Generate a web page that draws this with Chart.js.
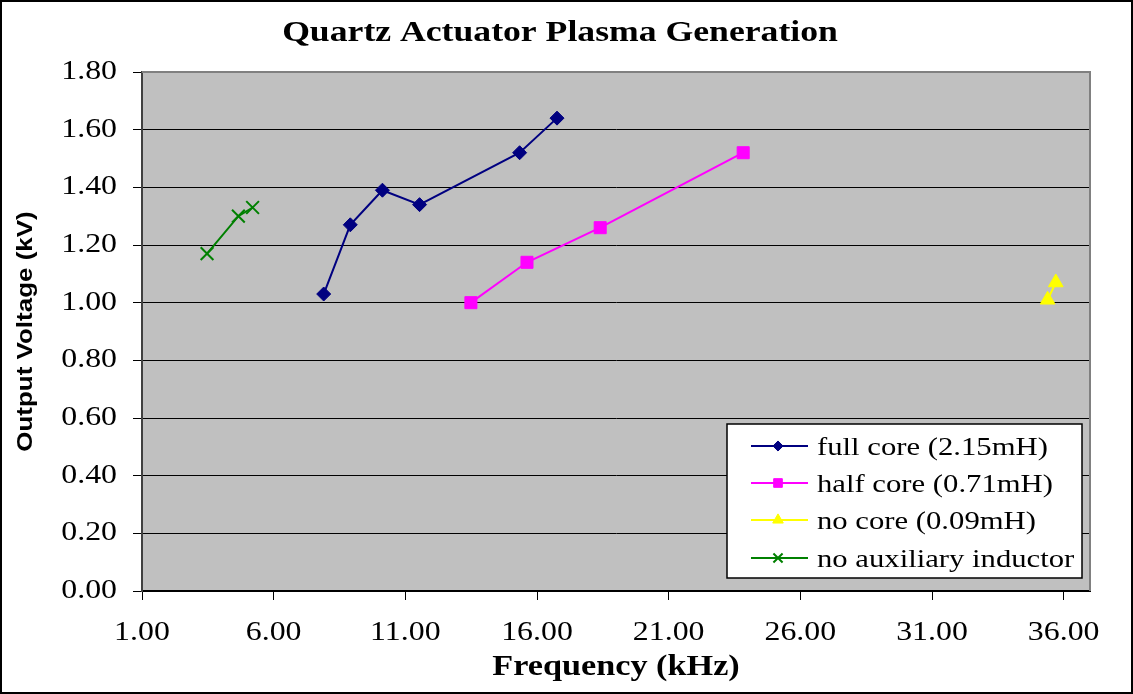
<!DOCTYPE html>
<html>
<head>
<meta charset="utf-8">
<script src="https://cdn.jsdelivr.net/npm/chart.js@4/dist/chart.umd.min.js"></script>
<style>
  html, body { margin: 0; padding: 0; background: #fff; }
  #wrap { width: 1133px; height: 694px; }
</style>
</head>
<body>
<div id="wrap"><canvas id="plasma"></canvas></div>
<script>
// values
const fullCoreFreq = [7.90, 8.91, 10.13, 11.54, 15.34, 16.76];
const fullCoreVolt = [1.03, 1.27, 1.39, 1.34, 1.52, 1.64];
const halfCoreFreq = [13.49, 15.62, 18.40, 23.83];
const halfCoreVolt = [1.00, 1.14, 1.26, 1.52];
const noCoreFreq = [35.39, 35.70];
const noCoreVolt = [1.01, 1.07];
const noAuxFreq = [3.47, 4.66, 5.20];
const noAuxVolt = [1.17, 1.30, 1.33];
const xTickValues = [1, 6, 11, 16, 21, 26, 31, 36];

const chartTitle = 'Quartz Actuator Plasma Generation';
const seriesLabels = ["full core (2.15mH)", "half core (0.71mH)", "no core (0.09mH)", "no auxiliary inductor"];

const serif = '"Liberation Serif", "Times New Roman", serif';
const toPoints = (xs, ys) => xs.map((x, i) => ({ x: x, y: ys[i] }));

const ctx = document.getElementById('plasma').getContext('2d');

// the old Excel picture has its text stretched sideways, so widen every glyph a bit
let textStretch = 1.18;
const rawFillText = ctx.fillText;
ctx.fillText = function (text, x, y) {
  this.save();
  this.translate(x, y);
  this.scale(textStretch, 1);
  rawFillText.call(this, text, 0, 0);
  this.restore();
};

const plotBackground = {
  id: 'plotBackground',
  beforeDraw(chart) {
    const { ctx, chartArea: a } = chart;
    ctx.save();
    ctx.fillStyle = '#c0c0c0';
    ctx.fillRect(a.left, a.top, a.right - a.left, a.bottom - a.top);
    ctx.restore();
  },
  afterDraw(chart) {
    const { ctx, chartArea: a } = chart;
    ctx.save();
    ctx.strokeStyle = '#808080';
    ctx.lineWidth = 2;
    ctx.beginPath();
    ctx.moveTo(a.left, a.top);
    ctx.lineTo(a.right, a.top);
    ctx.lineTo(a.right, a.bottom);
    ctx.stroke();
    // outer frame
    ctx.strokeStyle = '#000';
    ctx.lineWidth = 2;
    ctx.strokeRect(1, 1, chart.width - 2, chart.height - 2);
    // title
    ctx.fillStyle = '#000';
    ctx.font = 'bold 29px ' + serif;
    ctx.textAlign = 'center';
    ctx.textBaseline = 'alphabetic';
    const keep = textStretch;
    textStretch = 1.23;
    ctx.fillText(chartTitle, 560, 41);
    textStretch = keep;
    ctx.restore();
  }
};

const boxLegend = {
  id: 'boxLegend',
  afterDatasetsDraw(chart) {
    const { ctx, chartArea: a } = chart;
    const w = 355, h = 154;
    const left = a.right - 8 - w;
    const top = a.bottom - 13 - h;
    ctx.save();
    ctx.fillStyle = '#fff';
    ctx.fillRect(left, top, w, h);
    ctx.strokeStyle = '#000';
    ctx.lineWidth = 1.5;
    ctx.strokeRect(left, top, w, h);
    ctx.font = '26px ' + serif;
    ctx.textAlign = 'left';
    ctx.textBaseline = 'middle';
    const rows = [22, 59, 96, 134];
    chart.data.datasets.forEach((ds, i) => {
      const y = top + rows[i];
      ctx.strokeStyle = ds.borderColor;
      ctx.lineWidth = 2;
      ctx.beginPath();
      ctx.moveTo(left + 24, y);
      ctx.lineTo(left + 81, y);
      ctx.stroke();
      ctx.fillStyle = ds.pointBackgroundColor;
      ctx.strokeStyle = ds.pointBorderColor;
      ctx.lineWidth = ds.pointBorderWidth;
      Chart.helpers.drawPoint(ctx, {
        pointStyle: ds.pointStyle,
        radius: ds.pointRadius * 0.72,
        borderWidth: ds.pointBorderWidth
      }, left + 51, y);
      ctx.fillStyle = '#000';
      ctx.fillText(ds.label, left + 90, y + 2);
    });
    ctx.restore();
  }
};

new Chart(ctx, {
  type: 'scatter',
  data: {
    datasets: [
      {
        label: seriesLabels[0],
        data: toPoints(fullCoreFreq, fullCoreVolt),
        showLine: true,
        borderColor: '#000080',
        borderWidth: 2,
        pointStyle: 'rectRot',
        pointRadius: 7,
        pointBackgroundColor: '#000080',
        pointBorderColor: '#000080',
        pointBorderWidth: 1
      },
      {
        label: seriesLabels[1],
        data: toPoints(halfCoreFreq, halfCoreVolt),
        showLine: true,
        borderColor: '#ff00ff',
        borderWidth: 2,
        pointStyle: 'rect',
        pointRadius: 8.5,
        pointBackgroundColor: '#ff00ff',
        pointBorderColor: '#ff00ff',
        pointBorderWidth: 1
      },
      {
        label: seriesLabels[2],
        data: toPoints(noCoreFreq, noCoreVolt),
        showLine: true,
        borderColor: '#ffff00',
        borderWidth: 2,
        pointStyle: 'triangle',
        pointRadius: 8.5,
        pointBackgroundColor: '#ffff00',
        pointBorderColor: '#ffff00',
        pointBorderWidth: 1
      },
      {
        label: seriesLabels[3],
        data: toPoints(noAuxFreq, noAuxVolt),
        showLine: true,
        borderColor: '#008000',
        borderWidth: 2,
        pointStyle: 'crossRot',
        pointRadius: 9,
        pointBackgroundColor: '#008000',
        pointBorderColor: '#008000',
        pointBorderWidth: 2
      }
    ]
  },
  options: {
    responsive: true,
    maintainAspectRatio: false,
    animation: false,
    layout: {
      padding: { left: 0, right: 43, top: 72, bottom: 0 }
    },
    plugins: {
      legend: { display: false },
      tooltip: { enabled: false },
      title: { display: false }
    },
    scales: {
      x: {
        type: 'linear',
        min: 1,
        max: 37,
        afterBuildTicks(scale) {
          scale.ticks = xTickValues.map(v => ({ value: v }));
        },
        afterFit(scale) {
          scale.height = 103;
        },
        grid: {
          drawOnChartArea: false,
          drawTicks: true,
          tickLength: 9,
          tickColor: '#000',
          tickWidth: 1
        },
        border: { color: '#000', width: 2 },
        ticks: {
          color: '#000',
          padding: 17,
          maxRotation: 0,
          autoSkip: false,
          font: { family: serif, size: 27 },
          callback: v => Number(v).toFixed(2)
        },
        title: {
          display: true,
          text: 'Frequency (kHz)',
          color: '#000',
          font: { family: serif, size: 29, weight: 'bold' },
          padding: { top: 0, bottom: 9 }
        }
      },
      y: {
        min: 0,
        max: 1.8,
        afterFit(scale) {
          scale.width = 142;
        },
        grid: {
          color: '#000',
          lineWidth: 1,
          drawTicks: true,
          tickLength: 9,
          tickColor: '#000'
        },
        border: { color: '#404040', width: 2 },
        ticks: {
          stepSize: 0.2,
          color: '#000',
          padding: 16,
          font: { family: serif, size: 27 },
          callback: v => Number(v).toFixed(2)
        },
        title: {
          display: true,
          text: 'Output Voltage (kV)',
          color: '#000',
          font: { family: '"Liberation Sans", Arial, sans-serif', size: 22, weight: 'bold' },
          padding: { top: 13, bottom: 0 }
        }
      }
    }
  },
  plugins: [plotBackground, boxLegend]
});
</script>
</body>
</html>
